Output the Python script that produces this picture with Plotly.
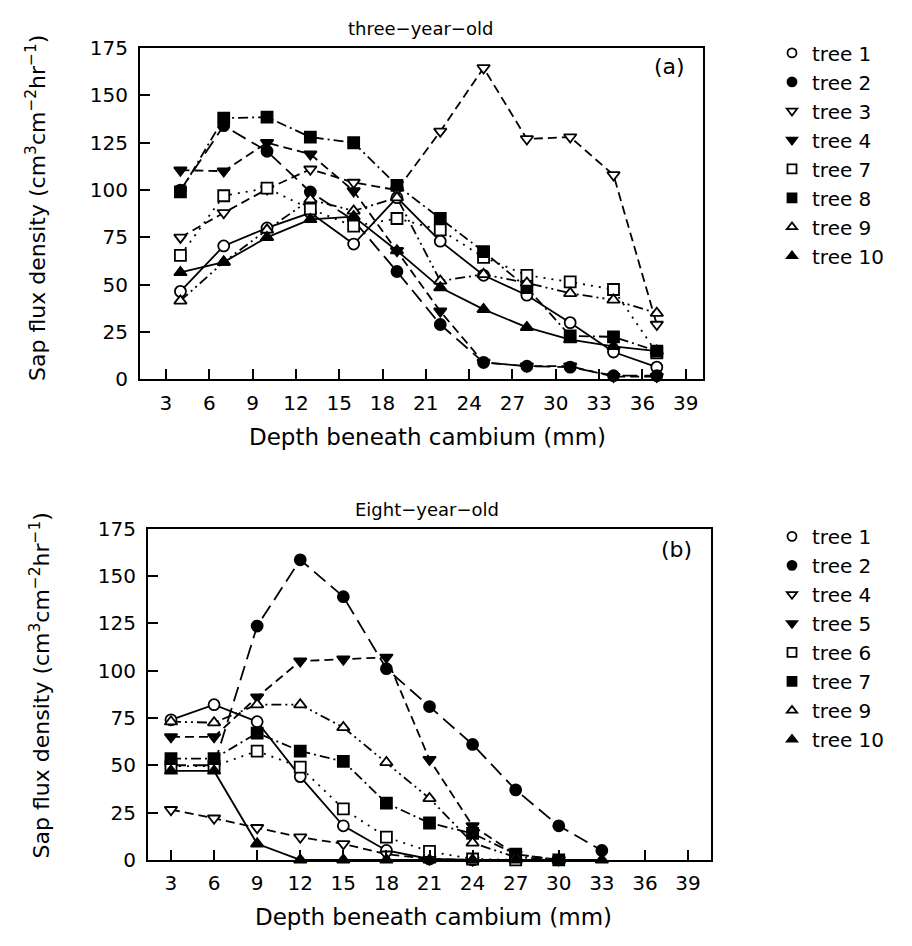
import plotly.graph_objects as go

# Depths (mm beneath cambium) at which sap flux was measured
depth_a = [4, 7, 10, 13, 16, 19, 22, 25, 28, 31, 34, 37]
depth_b = [3, 6, 9, 12, 15, 18, 21, 24, 27, 30, 33]

# Three-year-old trees: sap flux density (cm3 cm-2 hr-1)
a_tree1 = [46.5, 70.5, 80, 88, 71.5, 96, 73, 55, 44.5, 30, 14.5, 6.5]
a_tree2 = [100, 134, 120.5, 99, 84, 57, 29, 9, 7, 6.5, 2, 2]
a_tree3 = [75, 88, 100.5, 111, 104, 100, 131, 164.5, 127, 128, 108, 29]
a_tree4 = [110.5, 110, 125, 119, 99.5, 68, 36, 9, 7, 7, 1.5, 1.5]
a_tree7 = [65.5, 97, 101, 90, 81, 85, 79, 64.5, 55, 51.5, 47.5, 14]
a_tree8 = [99, 138, 138.5, 128, 125, 102.5, 85, 67.5, 48.5, 23, 22.5, 15]
a_tree9 = [41.5, 62, 79, 95, 89, 96, 52, 55.5, 51, 45.5, 42, 35]
a_tree10 = [56.5, 62, 75, 84.5, 86, 68, 48.5, 37, 27.5, 21, 17.5, 15]

# Eight-year-old trees
b_tree1 = [74, 82, 73, 44, 18, 5, 0.5, 0]
b_tree2 = [50, 50, 123.5, 158.5, 139, 101, 81, 61, 37, 18, 5]
b_tree4 = [26.5, 22, 17, 12, 8.5, 3, 0.5, 0]
b_tree5 = [65, 65, 86, 105, 106, 107, 53, 18, 3, 0]
b_tree6 = [49.5, 49.5, 57.5, 49, 27, 12, 4.5, 0.5, 0]
b_tree7 = [53.5, 53.5, 67, 57.5, 52, 30, 19.5, 14, 3, 0]
b_tree9 = [73, 72.5, 82, 82, 70, 51.5, 32.5, 9, 1.5, 0]
b_tree10 = [47, 47, 8.5, 0, 0, 0, 0, 0, 0, 0, 0]

x_ticks = list(range(3, 40, 3))
y_ticks = list(range(0, 176, 25))

FONT = "DejaVu Sans"
SOLID = "solid"
LONG = "15px,7px"
DASH = "9px,5px"
DOT = "2px,6px"
DASHDOT = "10px,4px,2px,4px"
DASHDOTDOT = "10px,4px,2px,4px,2px,4px"

# (name, values, marker symbol, filled?, dash)
series_a = [
    ("tree 1", a_tree1, "circle", False, SOLID),
    ("tree 2", a_tree2, "circle", True, LONG),
    ("tree 3", a_tree3, "triangle-down", False, DASH),
    ("tree 4", a_tree4, "triangle-down", True, DASH),
    ("tree 7", a_tree7, "square", False, DOT),
    ("tree 8", a_tree8, "square", True, DASHDOT),
    ("tree 9", a_tree9, "triangle-up", False, DASHDOTDOT),
    ("tree 10", a_tree10, "triangle-up", True, SOLID),
]
series_b = [
    ("tree 1", b_tree1, "circle", False, SOLID),
    ("tree 2", b_tree2, "circle", True, LONG),
    ("tree 4", b_tree4, "triangle-down", False, DASH),
    ("tree 5", b_tree5, "triangle-down", True, DASH),
    ("tree 6", b_tree6, "square", False, DOT),
    ("tree 7", b_tree7, "square", True, DASHDOT),
    ("tree 9", b_tree9, "triangle-up", False, DASHDOTDOT),
    ("tree 10", b_tree10, "triangle-up", True, SOLID),
]

fig = go.Figure()


def marker_style(symbol, filled, size):
    return dict(
        symbol=symbol,
        size=size,
        color="black" if filled else "white",
        line=dict(color="black", width=1.8),
    )


def add_panel(series, depth, xa, ya, legend):
    for name, vals, sym, filled, dash in series:
        n = len(vals)
        fig.add_trace(go.Scatter(
            x=depth[:n], y=vals, mode="lines+markers",
            line=dict(color="black", width=1.8, dash=dash),
            marker=marker_style(sym, filled, 11),
            xaxis=xa, yaxis=ya, showlegend=False, cliponaxis=False,
            hoverinfo="skip",
        ))
    # legend entries show the marker only
    for i, (name, vals, sym, filled, dash) in enumerate(series):
        fig.add_trace(go.Scatter(
            x=[None], y=[None], mode="markers", name=name,
            marker=marker_style(sym, filled, 9),
            xaxis=xa, yaxis=ya, legend=legend, legendgroup=legend + str(i),
        ))


add_panel(series_a, depth_a, "x", "y", "legend")
add_panel(series_b, depth_b, "x2", "y2", "legend2")

W, H = 912, 946


def px_x(v):
    return v / W


def px_y(v):
    return 1 - v / H


axis_common = dict(
    showline=True, linewidth=2.2, linecolor="black", mirror=True,
    ticks="inside", ticklen=10, tickwidth=2, tickcolor="black",
    showgrid=False, zeroline=False,
    tickfont=dict(family=FONT, size=20, color="black"),
)

legend_common = dict(
    xanchor="left", yanchor="top", tracegroupgap=0,
    font=dict(family=FONT, size=20, color="black"),
    bgcolor="rgba(0,0,0,0)",
)

fig.update_layout(
    width=W, height=H,
    margin=dict(l=0, r=0, t=0, b=0),
    paper_bgcolor="white", plot_bgcolor="white",
    font=dict(family=FONT, color="black"),
    xaxis=dict(domain=[px_x(140), px_x(703)], range=[1.2, 40.2], tickvals=x_ticks,
               anchor="y", ticklabelstandoff=4, **axis_common),
    yaxis=dict(domain=[px_y(377), px_y(37)], range=[0, 175], tickvals=y_ticks,
               anchor="x", ticklabelstandoff=6, **axis_common),
    xaxis2=dict(domain=[px_x(148), px_x(711)], range=[1.4, 40.6], tickvals=x_ticks,
                anchor="y2", ticklabelstandoff=4, **axis_common),
    yaxis2=dict(domain=[px_y(870), px_y(530)], range=[0, 175], tickvals=y_ticks,
                anchor="x2", ticklabelstandoff=6, **axis_common),
    legend=dict(x=px_x(772), y=px_y(22), **legend_common),
    legend2=dict(x=px_x(772), y=px_y(518), **legend_common),
)

ytitle = "Sap flux density (cm<sup>3</sup>cm<sup>\u22122</sup>hr<sup>\u22121</sup>)"
xtitle = "Depth beneath cambium (mm)"

annotations = [
    dict(text="three\u2212year\u2212old", x=px_x(420), y=px_y(17), font=dict(size=18)),
    dict(text="Eight\u2212year\u2212old", x=px_x(427), y=px_y(510), font=dict(size=18)),
    dict(text="(a)", x=px_x(669), y=px_y(56), font=dict(size=22)),
    dict(text="(b)", x=px_x(676), y=px_y(551), font=dict(size=22)),
    dict(text=xtitle, x=px_x(427), y=px_y(436), font=dict(size=23)),
    dict(text=xtitle, x=px_x(433), y=px_y(929), font=dict(size=23)),
    dict(text=ytitle, x=px_x(36), y=px_y(201), textangle=-90, font=dict(size=22)),
    dict(text=ytitle, x=px_x(40), y=px_y(691), textangle=-90, font=dict(size=22)),
]
for a in annotations:
    a.update(xref="paper", yref="paper", showarrow=False,
             xanchor="center", yanchor="middle")
    a["font"].update(family=FONT, color="black")
fig.update_layout(annotations=annotations)

fig.write_html("out.html")
